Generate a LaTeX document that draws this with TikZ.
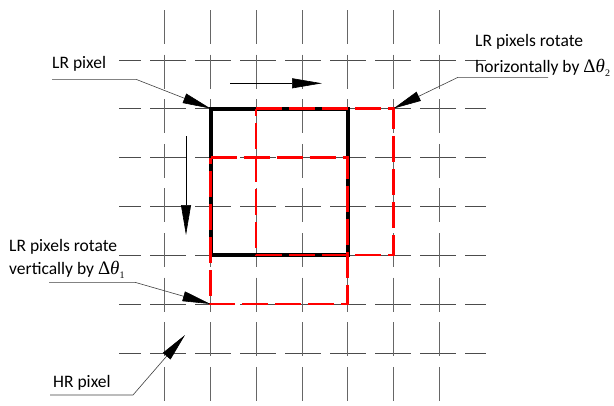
\documentclass[tikz,border=0pt]{standalone}
\usepackage{fontspec}
\setmainfont{Carlito}
\newfontfamily\greekserif{Liberation Serif}
\usetikzlibrary{arrows.meta}

\tikzset{
  gridh/.style={draw=black!70, line width=1pt, dash pattern=on 36pt off 9pt, dash phase=14pt},
  gridv/.style={draw=black!60, line width=1pt, dash pattern=on 34pt off 10.6pt},
  lrbox/.style={draw=black, line width=4pt},
  shiftbox/.style={draw=red, line width=2.2pt, dash pattern=on 26pt off 7pt},
  leader/.style={draw=black!75, line width=0.6pt, line join=round,
    -{Triangle[length=28pt,width=10pt,color=black]}},
  motion/.style={draw=black, line width=0.6pt,
    -{Triangle[length=30pt,width=10pt,color=black]}},
  note/.style={font=\fontsize{17.5}{21}\selectfont, inner sep=0pt, anchor=base west},
}
\newcommand{\dtheta}[1]{{\greekserif\fontsize{19}{21}\selectfont Δ\itshape θ}\raisebox{-3.5pt}{\greekserif\fontsize{10}{12}\selectfont #1}}

\begin{document}
\begin{tikzpicture}[x=1pt,y=-1pt]
  \useasboundingbox (0,0) rectangle (614,405);

  % HR pixel grid
  \foreach \gy in {60,108.5,157.5,206.5,255,304,353}
    \draw[gridh] (119,\gy) -- (486,\gy);
  \foreach \gx in {164,210.5,256,302,347.5,393.5,439.5}
    \draw[gridv] (\gx,10) -- (\gx,403);

  % LR pixel and its two shifted copies
  \coordinate (lrtl) at (210.5,108.5);
  \coordinate (lrtr) at (347.5,108.5);
  \coordinate (lrbr) at (347.5,255);
  \coordinate (lrbl) at (210.5,255);
  \coordinate (hstl) at (256,108.5);
  \coordinate (hstr) at (393.5,108.5);
  \coordinate (hsbr) at (393.5,255);
  \coordinate (hsbl) at (256,255);
  \coordinate (vstl) at (210.5,157.5);
  \coordinate (vstr) at (347.5,157.5);
  \coordinate (vsbr) at (347.5,304);
  \coordinate (vsbl) at (210.5,304);

  \draw[lrbox] (lrtl) -- (lrtr) -- (lrbr) -- (lrbl) -- cycle;
  \draw[shiftbox] (hstl) -- (hstr) -- (hsbr) -- (hsbl) -- cycle;
  \draw[shiftbox] (vstl) -- (vstr) -- (vsbr) -- (vsbl) -- cycle;

  % shift directions
  \coordinate (harrA) at (230,83.3);
  \coordinate (harrB) at (322,83.3);
  \coordinate (varrA) at (186,136);
  \coordinate (varrB) at (186,235);
  \draw[motion] (harrA) -- (harrB);
  \draw[motion] (varrA) -- (varrB);

  % labels
  \node[note] (lrpix) at (52,68.5) {LR pixel};
  \node[note] (hrotA) at (475,46) {LR pixels rotate};
  \node[note] (hrotB) at (475,72.5) {horizontally by \dtheta{2}};
  \node[note] (vrotA) at (9,251.7) {LR pixels rotate};
  \node[note] (vrotB) at (9,274.5) {vertically by \dtheta{1}};
  \node[note] (hrpix) at (53,387.5) {HR pixel};

  % leader lines
  \coordinate (lrpixS) at (52,79.3);
  \coordinate (lrpixK) at (136,79.3);
  \draw[leader] (lrpixS) -- (lrpixK) -- (lrtl);

  \coordinate (hrotS) at (548,77.3);
  \coordinate (hrotK) at (458,77.3);
  \draw[leader] (hrotS) -- (hrotK) -- (hstr);

  \coordinate (vrotS) at (49,282.3);
  \coordinate (vrotK) at (135,282.3);
  \draw[leader] (vrotS) -- (vrotK) -- (vsbl);

  \coordinate (hrpixS) at (50,395);
  \coordinate (hrpixK) at (133,395);
  \coordinate (hrpixT) at (185,335);
  \draw[leader] (hrpixS) -- (hrpixK) -- (hrpixT);
\end{tikzpicture}
\end{document}
